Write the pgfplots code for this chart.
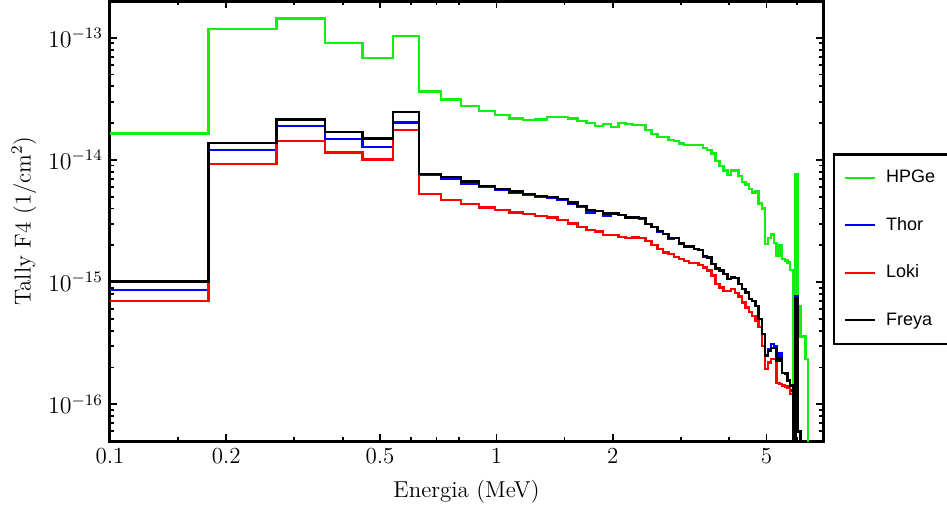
\documentclass[border=0pt]{standalone}
\usepackage{fontspec}
\newfontfamily\legendfont{Liberation Sans}
\usepackage{pgfplots}
\pgfplotsset{compat=1.18}
\usepackage{pgfplotstable}
\definecolor{hgreen}{HTML}{11EE11}
\definecolor{tblue}{HTML}{0000FF}
\definecolor{lred}{HTML}{FF0000}

% left bin edge (MeV), tally per detector; last row closes the last bin
\pgfplotstableread{
E     hpge     thor     loki     freya
0.09  1.65e-14 8.6e-16  7.0e-16  1.01e-15
0.18  1.18e-13 1.21e-14 9.3e-15  1.37e-14
0.27  1.44e-13 1.90e-14 1.43e-14 2.14e-14
0.36  9.05e-14 1.49e-14 1.15e-14 1.70e-14
0.45  6.82e-14 1.28e-14 1.01e-14 1.50e-14
0.54  1.04e-13 2.02e-14 1.76e-14 2.48e-14
0.63  3.62e-14 7.5e-15  5.24e-15 7.7e-15
0.72  3.13e-14 6.95e-15 4.68e-15 7.26e-15
0.81  2.77e-14 6.4e-15  4.34e-15 6.65e-15
0.90  2.52e-14 6.0e-15  4.07e-15 6.13e-15
0.99  2.34e-14 5.7e-15  3.88e-15 5.76e-15
1.08  2.19e-14 5.4e-15  3.71e-15 5.5e-15
1.17  2.12e-14 5.15e-15 3.6e-15  5.24e-15
1.26  2.14e-14 4.95e-15 3.48e-15 5.08e-15
1.35  2.25e-14 4.9e-15  3.37e-15 4.98e-15
1.44  2.25e-14 4.7e-15  3.21e-15 4.77e-15
1.53  2.19e-14 4.35e-15 3.01e-15 4.48e-15
1.62  2.08e-14 4.15e-15 2.83e-15 4.2e-15
1.71  2.0e-14  3.71e-15 2.66e-15 3.88e-15
1.80  1.90e-14 3.8e-15  2.59e-15 3.83e-15
1.89  1.96e-14 3.48e-15 2.44e-15 3.64e-15
1.98  1.86e-14 3.6e-15  2.44e-15 3.64e-15
2.07  2.0e-14  3.55e-15 2.35e-15 3.55e-15
2.16  1.96e-14 3.35e-15 2.29e-15 3.37e-15
2.25  1.93e-14 3.35e-15 2.32e-15 3.37e-15
2.34  1.93e-14 3.3e-15  2.30e-15 3.35e-15
2.43  1.75e-14 2.98e-15 2.18e-15 2.98e-15
2.52  1.64e-14 2.83e-15 2.02e-15 2.83e-15
2.61  1.54e-14 2.6e-15  1.86e-15 2.62e-15
2.70  1.54e-14 2.47e-15 1.75e-15 2.47e-15
2.79  1.46e-14 2.27e-15 1.70e-15 2.29e-15
2.88  1.43e-14 2.29e-15 1.61e-15 2.29e-15
2.97  1.36e-14 2.07e-15 1.55e-15 2.07e-15
3.06  1.32e-14 1.95e-15 1.49e-15 1.95e-15
3.15  1.32e-14 1.95e-15 1.44e-15 1.95e-15
3.24  1.32e-14 1.86e-15 1.44e-15 1.86e-15
3.33  1.32e-14 1.84e-15 1.38e-15 1.84e-15
3.42  1.25e-14 1.60e-15 1.32e-15 1.64e-15
3.51  1.20e-14 1.59e-15 1.24e-15 1.59e-15
3.60  1.13e-14 1.40e-15 1.13e-15 1.40e-15
3.69  9.8e-15  1.29e-15 9.7e-16  1.29e-15
3.78  8.9e-15  1.24e-15 9.0e-16  1.24e-15
3.87  8.2e-15  1.16e-15 8.5e-16  1.16e-15
3.96  7.5e-15  1.06e-15 8.5e-16  1.06e-15
4.05  8.2e-15  1.09e-15 8.8e-16  1.09e-15
4.14  8.2e-15  1.08e-15 8.1e-16  1.08e-15
4.23  7.4e-15  9.7e-16  7.6e-16  9.7e-16
4.32  6.6e-15  8.8e-16  6.8e-16  8.8e-16
4.41  6.3e-15  8.2e-16  6.2e-16  8.2e-16
4.50  5.8e-15  7.3e-16  5.7e-16  7.3e-16
4.59  5.4e-15  7.0e-16  5.3e-16  7.0e-16
4.68  5.6e-15  6.4e-16  4.8e-16  6.4e-16
4.77  4.4e-15  5.0e-16  4.3e-16  5.0e-16
4.86  4.0e-15  3.78e-16 3.0e-16  3.78e-16
4.95  2.05e-15 2.5e-16  1.95e-16 2.5e-16
5.04  2.3e-15  2.8e-16  2.2e-16  2.74e-16
5.13  2.45e-15 3.1e-16  2.35e-16 2.9e-16
5.22  2.1e-15  3.0e-16  2.35e-16 2.9e-16
5.31  1.65e-15 2.27e-16 1.5e-16  2.27e-16
5.40  2.0e-15  2.6e-16  1.47e-16 2.4e-16
5.49  1.55e-15 1.81e-16 1.42e-16 1.81e-16
5.58  1.5e-15  1.78e-16 1.40e-16 1.78e-16
5.67  1.45e-15 1.56e-16 1.37e-16 1.56e-16
5.76  1.25e-15 1.3e-16  1.22e-16 1.42e-16
5.85  1e-18    1e-18    1e-18    1e-18
5.94  7.7e-15  7.6e-16  6.8e-16  7.45e-16
6.03  6.4e-16  6e-17    6e-17    6e-17
6.12  3.6e-16  1e-18    1e-18    1e-18
6.21  3.6e-16  1e-18    1e-18    1e-18
6.30  2.35e-16 1e-18    1e-18    1e-18
6.39  1e-18    1e-18    1e-18    1e-18
6.48  1e-18    1e-18    1e-18    1e-18
}\spectra

\begin{document}
\begin{tikzpicture}
\begin{axis}[
  scale only axis, width=356.5pt, height=220pt,
  xmode=log, ymode=log,
  xmin=0.1, xmax=7, ymin=5e-17, ymax=2e-13,
  font=\fontsize{11.5}{13}\selectfont,
  xtick={0.1,0.2,0.5,1,2,5}, xticklabels={0.1,0.2,0.5,1,2,5},
  minor xtick={0.15,0.3,0.4,0.6,0.7,0.8,1.5,3,4,6},
  ytick={1e-16,1e-15,1e-14,1e-13},
  minor ytick={6e-17,7e-17,8e-17,9e-17,
    2e-16,3e-16,4e-16,5e-16,6e-16,7e-16,8e-16,9e-16,
    2e-15,3e-15,4e-15,5e-15,6e-15,7e-15,8e-15,9e-15,
    2e-14,3e-14,4e-14,5e-14,6e-14,7e-14,8e-14,9e-14,2e-13},
  tick align=inside, major tick length=3.5pt, minor tick length=1.8pt,
  every tick/.style={black, line width=0.9pt},
  axis line style={line width=1.5pt},
  xlabel={Energia (MeV)},
  ylabel={Tally F4 (1/cm$^2$)},
  xlabel style={at={(axis description cs:0.5,-0.1159)}, anchor=center},
  ylabel style={at={(axis description cs:-0.1206,0.5)}, anchor=center},
  legend style={at={(1.0136,0.6545)}, anchor=north west, draw=black,
    line width=1.4pt, font=\legendfont\fontsize{9}{11}\selectfont,
    row sep=10.75pt, inner xsep=5pt, inner ysep=5.25pt,
    nodes={text height=7pt, text depth=2pt, inner sep=2pt}},
  legend cell align=left,
  legend image code/.code={\draw[#1, line width=1pt] (0pt,0pt) -- (15pt,0pt);},
  every axis plot/.append style={const plot mark left, no marks, line width=1.2pt, line join=miter},
]
\addplot[hgreen] table[x=E, y=hpge] {\spectra};
\addplot[tblue] table[x=E, y=thor] {\spectra};
\addplot[lred] table[x=E, y=loki] {\spectra};
\addplot[black] table[x=E, y=freya] {\spectra};
\legend{\hspace*{3pt}HPGe,\hspace*{3pt}Thor,\hspace*{3pt}Loki,\hspace*{3pt}Freya\hspace*{14pt}}
\end{axis}
\pgfresetboundingbox
\path[use as bounding box] ([xshift=-55pt,yshift=-35pt]current axis.south west)
  rectangle ([xshift=62pt,yshift=0.5pt]current axis.north east);
\end{tikzpicture}
\end{document}
